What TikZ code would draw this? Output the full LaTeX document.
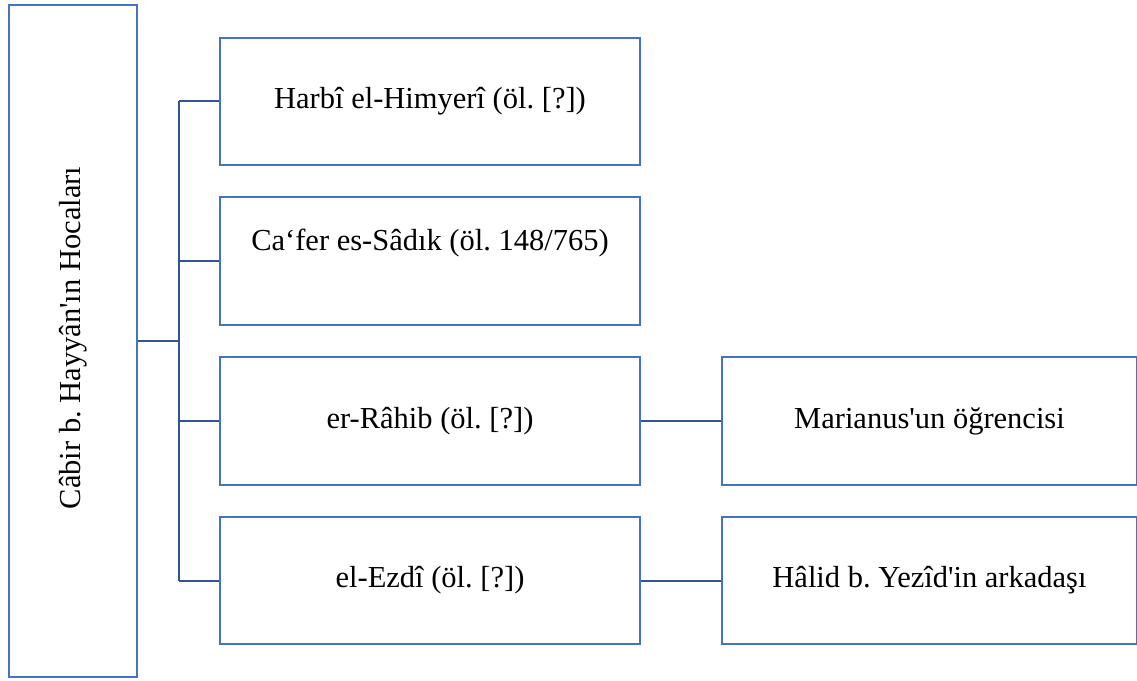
\documentclass[tikz,border=0pt]{standalone}
\usepackage{fontspec}
\setmainfont{Liberation Serif}[Ligatures=TeXOff]
\definecolor{boxblue}{HTML}{4472C4}
\definecolor{linkblue}{HTML}{2F5597}
\begin{document}
\frenchspacing
\begin{tikzpicture}[x=1pt,y=-1pt,
  box/.style={draw=boxblue,line width=2pt,fill=white,inner sep=0pt},
  link/.style={draw=linkblue,line width=2pt},
  lbl/.style={font=\fontsize{30.5}{36}\selectfont,inner sep=0pt}]
\clip (0,0) rectangle (1137,680);
\fill[white] (0,0) rectangle (1137,680);
% root box with its rotated title
\draw[box] (9,5) rectangle (137,677);
\node[box,draw=none,fill=none,minimum width=128pt,minimum height=672pt] (root) at (73,341) {};
\node[lbl,rotate=90] (roott) at (73,338) {Câbir b. Hayyân'ın Hocaları};
% teachers
\node[box,minimum width=420pt,minimum height=127pt] (b1) at (430,101) {};
\node[lbl] (t1) at (b1.center) {Harbî el-Himyerî (öl. [?])};
\node[box,minimum width=420pt,minimum height=128pt] (b2) at (430,261) {};
\node[lbl] (t2) at (430,243) {Ca‘fer es-Sâdık (öl. 148/765)};
\node[box,minimum width=420pt,minimum height=128pt] (b3) at (430,421) {};
\node[lbl] (t3) at (b3.center) {er-Râhib (öl. [?])};
\node[box,minimum width=420pt,minimum height=127pt] (b4) at (430,580.5) {};
\node[lbl] (t4) at (b4.center) {el-Ezdî (öl. [?])};
% notes on the right, running past the edge
\node[box,minimum width=415pt,minimum height=128pt] (r3) at (929.5,421) {};
\node[lbl] (s3) at (r3.center) {Marianus'un öğrencisi};
\node[box,minimum width=415pt,minimum height=127pt] (r4) at (929.5,580.5) {};
\node[lbl] (s4) at (r4.center) {Hâlid b. Yezîd'in arkadaşı};
% tree connectors
\coordinate (trunk) at (179,341);
\draw[link] (root.east) -- (trunk);
\draw[link] (trunk |- b1.west) -- (trunk |- b4.west);
\foreach \b in {b1,b2,b3,b4} \draw[link] (trunk |- \b.west) -- (\b.west);
\draw[link] (b3.east) -- (r3.west);
\draw[link] (b4.east) -- (r4.west);
\end{tikzpicture}
\end{document}
